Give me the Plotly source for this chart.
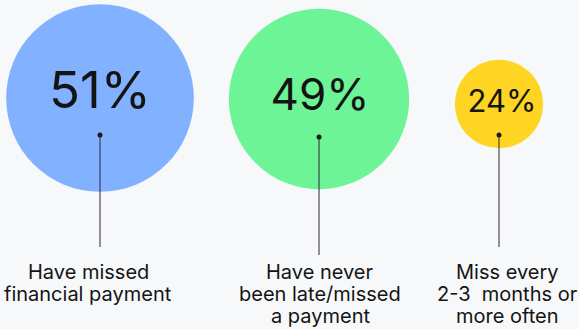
import plotly.graph_objects as go

# Survey shares, one bubble per answer
label_lines = [["Have missed", "financial payment"],
               ["Have never", "been late/missed", "a payment"],
               ["Miss every", "2-3  months or", "more often"]]
values = [51, 49, 24]
pct_text = [f"{v}%" for v in values]
colors = ["#82B1FF", "#6DF497", "#FFD523"]

# Layout (pixel canvas)
W, H = 579, 329
bubble_x = [100, 319, 499]
bubble_y = [98, 99, 104]
text_x = [100, 320, 502]
text_y = [95, 99, 104]
pct_size = [51, 44, 31]
dot_y = [135, 137, 135]
line_end = [247, 255, 247]
label_x = [88, 320, 507]
label_y0 = 272
label_step = 22
px_per_unit = 3.68  # bubble diameter in px per percentage point

FONT = "Inter, Roboto, sans-serif"
INK = "#141414"

fig = go.Figure()

fig.add_trace(go.Scatter(
    x=bubble_x, y=bubble_y, mode="markers",
    marker=dict(size=[v * px_per_unit for v in values], color=colors,
                line=dict(width=0), opacity=1),
    cliponaxis=False, hoverinfo="skip", showlegend=False,
))

fig.add_trace(go.Scatter(
    x=text_x, y=text_y, mode="text", text=pct_text,
    textfont=dict(family=FONT, size=pct_size, color=INK),
    textposition="middle center",
    cliponaxis=False, hoverinfo="skip", showlegend=False,
))

for i in range(len(values)):
    fig.add_trace(go.Scatter(
        x=[bubble_x[i], bubble_x[i]], y=[dot_y[i], line_end[i]],
        mode="lines", line=dict(color="#2a2a2a", width=1),
        hoverinfo="skip", showlegend=False, cliponaxis=False,
    ))

fig.add_trace(go.Scatter(
    x=bubble_x, y=dot_y, mode="markers",
    marker=dict(size=5, color="#1a1a1a"),
    hoverinfo="skip", showlegend=False, cliponaxis=False,
))

for i, lines in enumerate(label_lines):
    for j, line in enumerate(lines):
        fig.add_annotation(
            x=label_x[i], y=label_y0 + j * label_step, text=line,
            showarrow=False, xanchor="center", yanchor="middle",
            font=dict(family=FONT, size=20, color=INK),
        )

fig.update_layout(
    width=W, height=H,
    margin=dict(l=0, r=0, t=0, b=0),
    paper_bgcolor="#F7F8FA", plot_bgcolor="#F7F8FA",
    xaxis=dict(range=[0, W], visible=False, fixedrange=True),
    yaxis=dict(range=[H, 0], visible=False, fixedrange=True),
)

fig.write_html("out.html")
